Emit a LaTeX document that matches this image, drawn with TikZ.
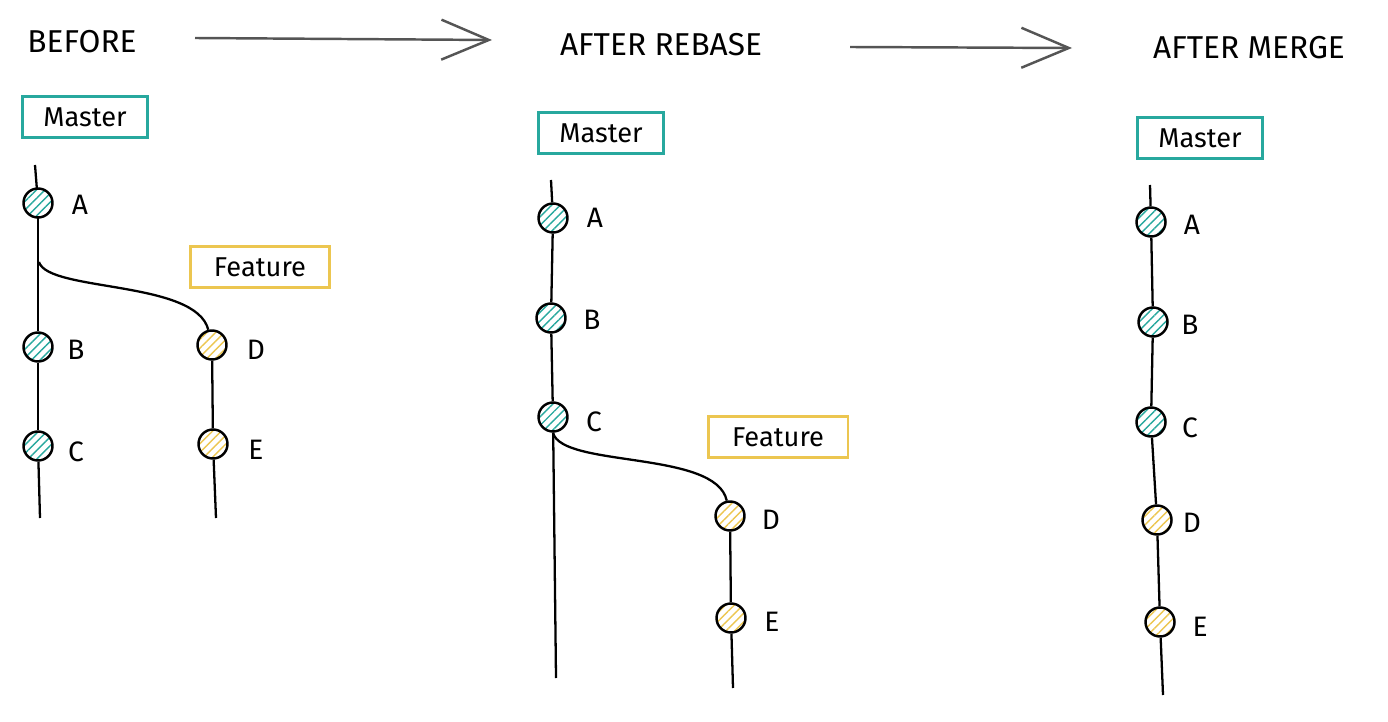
\documentclass[tikz,border=0pt]{standalone}
\usepackage{fontspec}
\setmainfont{Fira Sans}
\usetikzlibrary{patterns.meta,arrows.meta}
\definecolor{mteal}{RGB}{40,168,158}
\definecolor{fyel}{RGB}{236,198,80}
\definecolor{agray}{RGB}{85,85,85}

\begin{document}
\begin{tikzpicture}[x=0.02cm,y=-0.02cm,
  commit/.style={circle,draw,line width=1.4pt,minimum size=0.58cm,inner sep=0pt,
    pattern={Lines[angle=45,distance=3.5pt,line width=0.8pt]}},
  mc/.style={commit,pattern color=mteal},
  fc/.style={commit,pattern color=fyel},
  branch/.style={draw,line width=1.7pt,minimum height=0.82cm,inner sep=4pt,font=\fontsize{15.5}{17}\selectfont},
  mbox/.style={branch,draw=mteal,minimum width=2.5cm},
  fbox/.style={branch,draw=fyel,minimum width=2.8cm},
  lbl/.style={font=\fontsize{16}{18}\selectfont},
  title/.style={font=\fontsize{18}{20}\selectfont},
  edge/.style={line width=1.3pt},
  step arrow/.style={draw=agray,line width=1.4pt,-{Straight Barb[length=0.95cm,width=0.8cm,line width=1.4pt]}}]
  \useasboundingbox (0,0) rectangle (1388,722);

  % titles
  \node[title] (tBefore) at (82,42)  {BEFORE};
  \node[title] (tRebase) at (661,45) {AFTER REBASE};
  \node[title] (tMerge)  at (1249,48){AFTER MERGE};
  \coordinate (s1) at (195,38);
  \coordinate (e1) at (492,40);
  \coordinate (s2) at (850,47);
  \coordinate (e2) at (1072,48);
  \draw[step arrow] (s1) -- (e1);
  \draw[step arrow] (s2) -- (e2);

  % before
  \node[mbox] (bMaster)  at (85,117)  {Master};
  \node[fbox] (bFeature) at (260,267) {Feature};
  \node[mc] (bA) at (38,203) {};
  \node[mc] (bB) at (38,347) {};
  \node[mc] (bC) at (38,446) {};
  \node[fc] (bD) at (212,345) {};
  \node[fc] (bE) at (213,444) {};
  \node[lbl] (lbA) at (80,205) {A};
  \node[lbl] (lbB) at (76,350) {B};
  \node[lbl] (lbC) at (76,452) {C};
  \node[lbl] (lbD) at (256,350) {D};
  \node[lbl] (lbE) at (256,450) {E};
  \coordinate (bTop)  at (35,165);
  \coordinate (bFork) at (39,262);
  \coordinate (bEnd)  at (40,518);
  \coordinate (bEndF) at (216,518);
  \draw[edge] (bTop) -- (bA);
  \draw[edge] (bA) -- (bB);
  \draw[edge] (bB) -- (bC);
  \draw[edge] (bC) -- (bEnd);
  \draw[edge] (bFork) .. controls (48,292) and (196,280) .. (bD);
  \draw[edge] (bD) -- (bE);
  \draw[edge] (bE) -- (bEndF);

  % after rebase
  \node[mbox] (rMaster)  at (601,133) {Master};
  \node[fbox] (rFeature) at (778,437) {Feature};
  \node[mc] (rA) at (553,218) {};
  \node[mc] (rB) at (551,318) {};
  \node[mc] (rC) at (553,417) {};
  \node[fc] (rD) at (730,516) {};
  \node[fc] (rE) at (731,618) {};
  \node[lbl] (lrA) at (595,218) {A};
  \node[lbl] (lrB) at (592,320) {B};
  \node[lbl] (lrC) at (594,422) {C};
  \node[lbl] (lrD) at (771,520) {D};
  \node[lbl] (lrE) at (772,622) {E};
  \coordinate (rTop)  at (551,180);
  \coordinate (rEnd)  at (556,678);
  \coordinate (rEndF) at (733,688);
  \draw[edge] (rTop) -- (rA);
  \draw[edge] (rA) -- (rB);
  \draw[edge] (rB) -- (rC);
  \draw[edge] (rC) -- (rEnd);
  \draw[edge] (rC.south) .. controls (562,468) and (716,450) .. (rD);
  \draw[edge] (rD) -- (rE);
  \draw[edge] (rE) -- (rEndF);

  % after merge
  \node[mbox] (mMaster) at (1200,138) {Master};
  \node[mc] (mA) at (1151,222) {};
  \node[mc] (mB) at (1153,322) {};
  \node[mc] (mC) at (1151,422) {};
  \node[fc] (mD) at (1157,520) {};
  \node[fc] (mE) at (1160,622) {};
  \node[lbl] (lmA) at (1192,225) {A};
  \node[lbl] (lmB) at (1190,325) {B};
  \node[lbl] (lmC) at (1190,428) {C};
  \node[lbl] (lmD) at (1192,523) {D};
  \node[lbl] (lmE) at (1200,627) {E};
  \coordinate (mTop) at (1150,185);
  \coordinate (mEnd) at (1163,695);
  \draw[edge] (mTop) -- (mA);
  \draw[edge] (mA) -- (mB);
  \draw[edge] (mB) -- (mC);
  \draw[edge] (mC) -- (mD);
  \draw[edge] (mD) -- (mE);
  \draw[edge] (mE) -- (mEnd);
\end{tikzpicture}
\end{document}
